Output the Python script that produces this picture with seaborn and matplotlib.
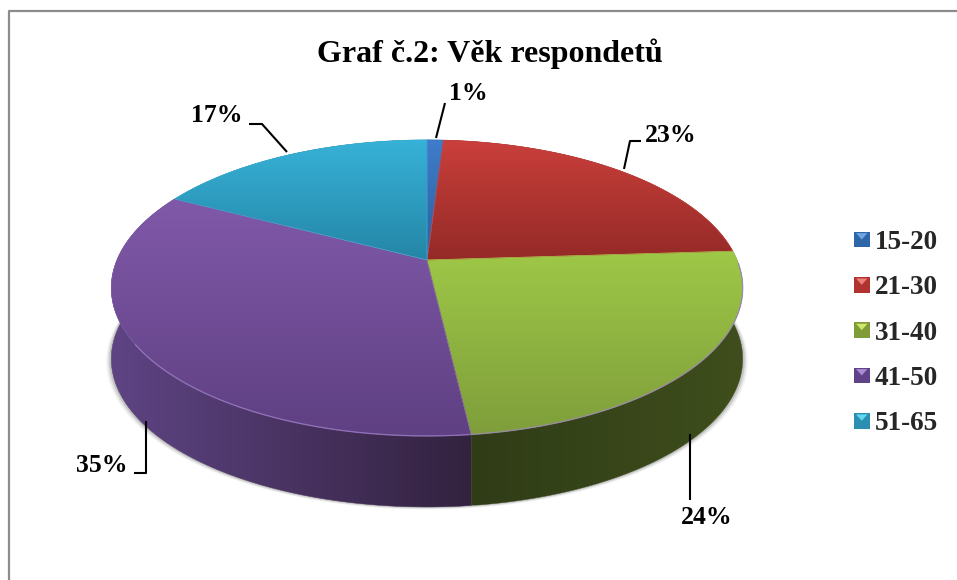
import numpy as np
import matplotlib
matplotlib.use('Agg')
import matplotlib.pyplot as plt
import seaborn as sns
from matplotlib.legend_handler import HandlerBase
from matplotlib.patches import Polygon, Rectangle

# data
age_groups = ['15-20', '21-30', '31-40', '41-50', '51-65']
shares = [1, 23, 24.15, 34.55, 17.3]
title = 'Graf č.2: Věk respondetů'

# colours: top face (upper, lower), side wall (left, right)
top_cols = [('#3f7ccb', '#2c6096'), ('#ca3f3b', '#942a27'), ('#9ec847', '#7f9e3b'),
            ('#8059a9', '#5f4082'), ('#37b2d8', '#2486a6')]
wall_cols = [('#1d3f66', '#1d3f66'), ('#631c1a', '#631c1a'), ('#2f3c17', '#3f4e1c'),
             ('#5e4484', '#33223f'), ('#175a6e', '#175a6e')]
key_cols = ['#2f66a8', '#b03330', '#7f9c38', '#5f4288', '#2a8fb0']
key_tips = ['#6ea6e6', '#ee7f7c', '#cfe868', '#ab8ad8', '#62d8f0']

# layout, in pixels of the 957x580 picture
cx, cy = 427, 260
rx, ry = 310, 142.7
tilt = 0.189
depth = 71
leaders = [[(436, 138), (445, 103)],
           [(624, 169), (630, 141), (641, 141)],
           [(690, 434), (690, 500)],
           [(146, 421), (146, 473), (134, 473)],
           [(287, 152), (262, 124), (249, 124)]]
label_pos = [(468, 94), (671, 135), (707, 517), (102, 465), (217, 116)]

sns.set_theme(style='white')
plt.rcParams['font.family'] = ['Liberation Serif', 'DejaVu Serif']


def rim(a, b, n=200):
    # perspective view of the circle, angles clockwise from the top
    t = np.radians(np.linspace(a, b, n))
    d = 1 + tilt * np.cos(t)
    return np.column_stack([cx + rx * np.sin(t) / d, cy - ry * np.cos(t) / d])


def gradient(ax, pts, cols, z, horizontal=False):
    ramp = np.array(sns.blend_palette(cols, 128))
    ramp = ramp[None, :, :] if horizontal else ramp[:, None, :]
    x0, y0 = pts.min(axis=0)
    x1, y1 = pts.max(axis=0)
    im = ax.imshow(ramp, extent=(x0, x1, y1, y0), aspect='auto', zorder=z, interpolation='bilinear')
    im.set_clip_path(Polygon(pts, transform=ax.transData))


class BevelKey(HandlerBase):
    def create_artists(self, legend, orig, xd, yd, w, h, fontsize, trans):
        i = age_groups.index(orig.get_label())
        s = 15.5 * 0.72
        y = -yd + (h - s) / 2
        box = Rectangle((-xd, y), s, s, fc=key_cols[i], ec='none', transform=trans)
        tip = Polygon([(-xd + 1.5, y + s - 1), (-xd + s - 1.5, y + s - 1), (-xd + s / 2, y + s / 2)],
                      fc=key_tips[i], ec='none', transform=trans)
        return [box, tip]


fig = plt.figure(figsize=(9.57, 5.8), dpi=100)
ax = fig.add_axes([0, 0, 1, 1])

edges = np.concatenate([[0], np.cumsum(shares)]) * 360 / sum(shares)

# soft shadow round the wall
whole = rim(0, 360, 400)
for grow, alpha in [(5, 0.05), (3.5, 0.08), (2, 0.12)]:
    shade = whole + [0, depth + grow / 2]
    shade[:, 0] = cx + (shade[:, 0] - cx) * (1 + grow / rx)
    ax.fill(shade[:, 0], shade[:, 1], color='black', alpha=alpha, lw=0, zorder=1)

# side walls, then the top faces over them
for i in range(len(shares)):
    arc = rim(edges[i], edges[i + 1])
    band = np.vstack([arc, arc[::-1] + [0, depth]])
    ax.fill(band[:, 0], band[:, 1], fc='none', ec=wall_cols[i][1], lw=0.3, zorder=2)
    gradient(ax, band, wall_cols[i], 2.5, horizontal=True)

for i in range(len(shares)):
    arc = rim(edges[i], edges[i + 1])
    face = np.vstack([[cx, cy], arc])
    gradient(ax, face, top_cols[i], 3)
    ax.fill(face[:, 0], face[:, 1], fc='none', ec=top_cols[i][0], lw=0.5, zorder=3.5)

front = rim(edges[2] + 5, edges[4] - 60)
ax.plot(front[:, 0], front[:, 1], color='#9a7cc4', lw=1, alpha=0.7, zorder=4)

# value labels with their leader lines
for value, line, pos in zip(shares, leaders, label_pos):
    xs, ys = zip(*line)
    ax.plot(xs, ys, color='black', lw=1.5, solid_capstyle='butt', zorder=5)
    ax.text(pos[0], pos[1], f'{round(value)}%', ha='center', va='center', fontsize=18.5,
            fontweight='bold', color='black')

ax.text(490, 54, title, ha='center', va='center', fontsize=23, fontweight='bold', color='black')

handles = [Rectangle((0, 0), 1, 1, label=g) for g in age_groups]
ax.legend(handles=handles, handler_map={Rectangle: BevelKey()}, loc='upper left',
          bbox_to_anchor=(854, 230), bbox_transform=ax.transData, frameon=False,
          prop={'size': 19.5, 'weight': 'bold'}, labelspacing=0.75, handlelength=0.7,
          handletextpad=0.07, borderpad=0, borderaxespad=0)

# chart frame
ax.plot([9, 9, 957], [580, 11, 11], color='#8c8c8c', lw=1.6, zorder=2)

ax.set_xlim(0, 957)
ax.set_ylim(580, 0)
ax.axis('off')

fig.savefig('out.png', dpi=100)
